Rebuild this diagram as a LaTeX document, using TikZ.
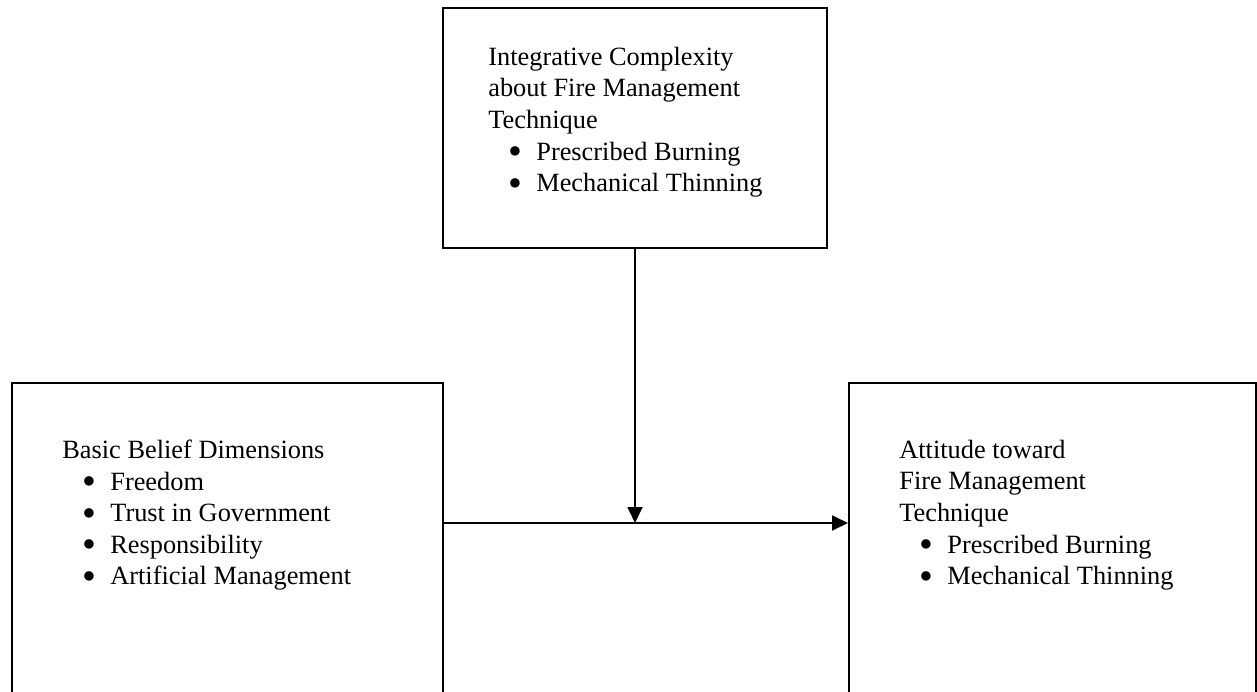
\documentclass[tikz,border=0pt]{standalone}
\usepackage{fontspec}
\setmainfont{Liberation Serif}
\usetikzlibrary{arrows.meta, positioning}
\newcommand{\bitem}[1]{\hspace*{0.4cm}\makebox[0.56cm][l]{\raisebox{-0.17em}{\scalebox{1.5}{\textbullet}}}#1}

\begin{document}
\begin{tikzpicture}[
        box/.style={rectangle, draw=black, line width=1pt, fill=none, inner sep=0pt},
        txt/.style={anchor=north west, align=left, inner sep=0pt, font=\fontsize{15}{18}\selectfont},
        arrow/.style={-{Triangle[length=0.32cm, width=0.3cm]}, draw=black, line width=1pt}
    ]
        \useasboundingbox (0,0) rectangle (25.14,13.82);

        \node[box, minimum width=7.68cm, minimum height=4.8cm] (complexity) at (12.7,11.26) {};
        \node[box, anchor=north west, minimum width=8.62cm, minimum height=6.8cm] (belief) at (0.22,6.18) {};
        \node[box, anchor=north west, minimum width=8.14cm, minimum height=6.8cm] (attitude) at (16.96,6.18) {};

        \node[txt] (complexityText) at (9.76,12.89) {Integrative Complexity\\ about Fire Management\\ Technique\\ \bitem{Prescribed Burning}\\ \bitem{Mechanical Thinning}};
        \node[txt] (beliefText) at (1.24,5.03) {Basic Belief Dimensions\\ \bitem{Freedom}\\ \bitem{Trust in Government}\\ \bitem{Responsibility}\\ \bitem{Artificial Management}};
        \node[txt] (attitudeText) at (17.98,5.03) {Attitude toward\\ Fire Management\\ Technique\\ \bitem{Prescribed Burning}\\ \bitem{Mechanical Thinning}};

        \coordinate (join) at (12.7,3.36);
        \draw[arrow] (complexity.south) -- (join);
        \draw[arrow] (belief.east |- join) -- (attitude.west |- join);
    \end{tikzpicture}
\end{document}
